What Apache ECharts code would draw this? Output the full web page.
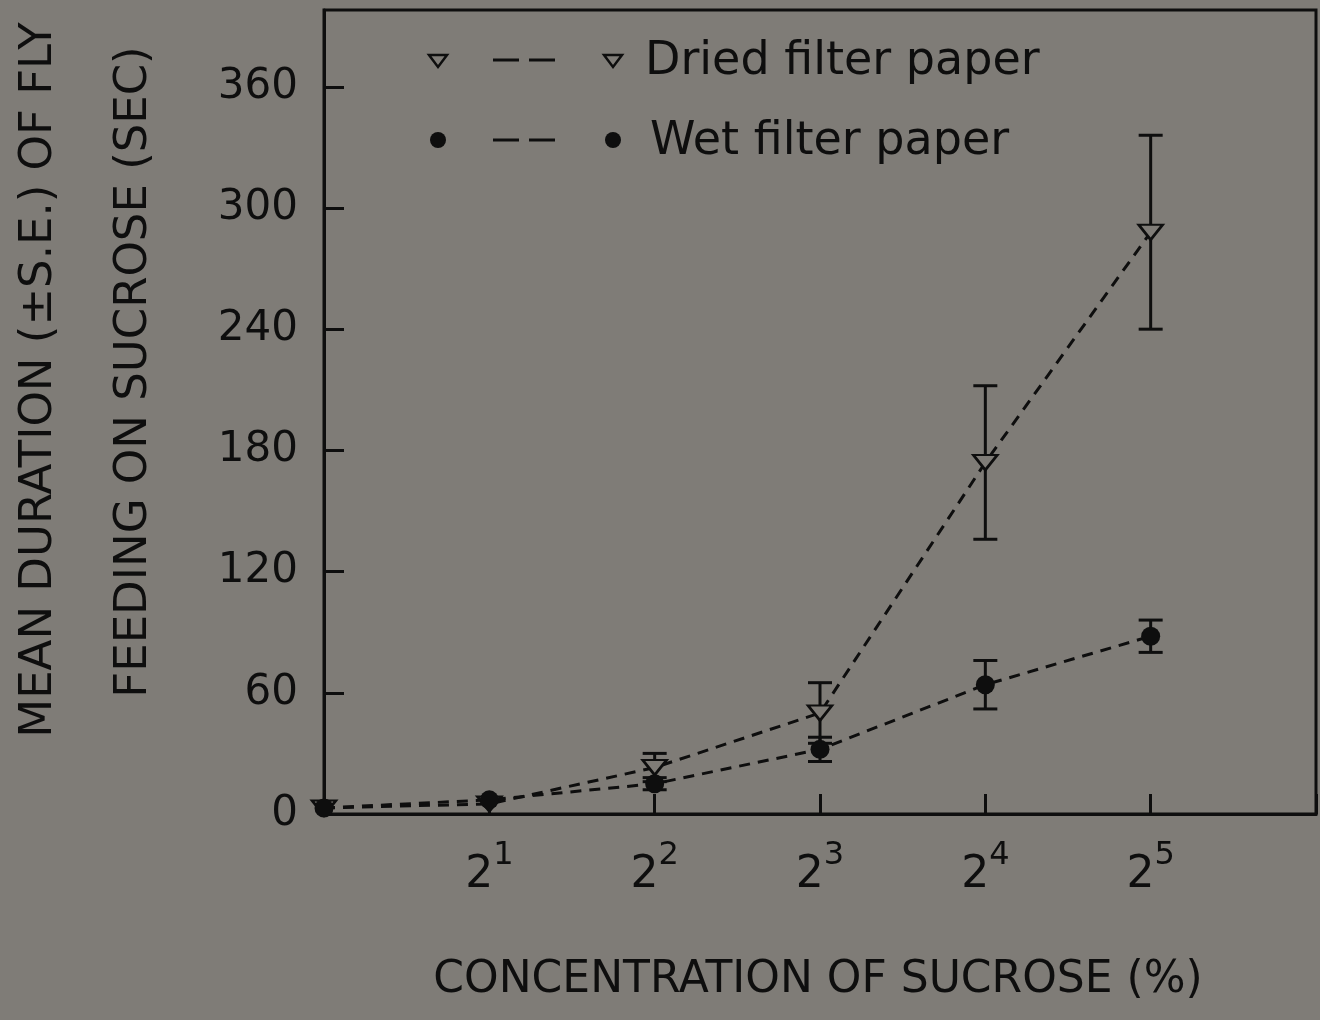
<!DOCTYPE html>
<html>
<head>
<meta charset="utf-8">
<script src="https://cdn.jsdelivr.net/npm/echarts@6/dist/echarts.min.js"></script>
<style>
  html, body { margin: 0; padding: 0; background: #7f7c77; }
  #chart { width: 1320px; height: 1020px; }
</style>
</head>
<body>
<div id="chart"></div>
<script>
// Sucrose concentration (%) on a base-2 log scale
const concentrations = [1, 2, 4, 8, 16, 32];

// Mean feeding duration (sec) and standard errors
const driedMean = [3, 5, 23, 50, 174, 288];
const driedSE   = [0, 0, 7, 15, 38, 48];
const wetMean   = [3, 7, 15, 32, 64, 88];
const wetSE     = [0, 0, 3, 6, 12, 8];

const yTicks = [0, 60, 120, 180, 240, 300, 360];

const INK = '#0e0e0e';
const BG = '#7f7c77';
const FONT = 'DejaVu Sans';
const TRI = 'path://M0,0 L24,0 L12,15 Z';

const driedPoints = concentrations.map((c, i) => [c, driedMean[i]]);
const wetPoints = concentrations.map((c, i) => [c, wetMean[i]]);
const driedBars = concentrations.map((c, i) => [c, driedMean[i] - driedSE[i], driedMean[i] + driedSE[i]])
  .filter((d, i) => driedSE[i] > 0);
const wetBars = concentrations.map((c, i) => [c, wetMean[i] - wetSE[i], wetMean[i] + wetSE[i]])
  .filter((d, i) => wetSE[i] > 0);

function errorBar(params, api) {
  const x = api.value(0);
  const lo = api.coord([x, api.value(1)]);
  const hi = api.coord([x, api.value(2)]);
  const half = 12;
  const style = { stroke: INK, lineWidth: 3 };
  return {
    type: 'group',
    children: [
      { type: 'line', shape: { x1: lo[0], y1: lo[1], x2: hi[0], y2: hi[1] }, style },
      { type: 'line', shape: { x1: lo[0] - half, y1: lo[1], x2: lo[0] + half, y2: lo[1] }, style },
      { type: 'line', shape: { x1: hi[0] - half, y1: hi[1], x2: hi[0] + half, y2: hi[1] }, style }
    ]
  };
}

const chart = echarts.init(document.getElementById('chart'));

const legendRow = (y, marker, label, textX) => {
  const items = [];
  const mk = (cx) => marker === 'tri'
    ? { type: 'polygon', shape: { points: [[cx - 9, y - 5], [cx + 9, y - 5], [cx, y + 7]] },
        style: { fill: BG, stroke: INK, lineWidth: 2.5 } }
    : { type: 'circle', shape: { cx: cx, cy: y, r: 8 }, style: { fill: INK } };
  items.push(mk(438));
  items.push({ type: 'line', shape: { x1: 493, y1: y, x2: 519, y2: y }, style: { stroke: INK, lineWidth: 3 } });
  items.push({ type: 'line', shape: { x1: 529, y1: y, x2: 555, y2: y }, style: { stroke: INK, lineWidth: 3 } });
  items.push(mk(613));
  items.push({ type: 'text', x: textX, y: y + 2,
    style: { text: label, fill: INK, font: '46px "' + FONT + '"', textAlign: 'left', textVerticalAlign: 'middle' } });
  return items;
};

chart.setOption({
  backgroundColor: BG,
  animation: false,
  grid: {
    left: 324, right: 4, top: 10, bottom: 206,
    show: true, borderColor: INK, borderWidth: 3, backgroundColor: 'transparent'
  },
  xAxis: {
    type: 'log',
    logBase: 2,
    min: 1,
    max: 64,
    interval: 1,
    axisLine: { lineStyle: { color: INK, width: 3 } },
    axisTick: { inside: true, length: 20, lineStyle: { color: INK, width: 3 } },
    splitLine: { show: false },
    axisLabel: {
      margin: 26,
      color: INK,
      formatter: function (v) {
        const e = Math.round(Math.log2(v));
        if (e < 1 || e > 5) return '';
        return '{b|2}{s|' + e + '}';
      },
      rich: {
        b: { fontFamily: FONT, fontSize: 44, color: INK, verticalAlign: 'bottom' },
        s: { fontFamily: FONT, fontSize: 32, color: INK, verticalAlign: 'bottom', padding: [0, 0, 26, 0] }
      }
    }
  },
  yAxis: {
    type: 'value',
    min: 0,
    max: 398,
    interval: 60,
    axisLine: { lineStyle: { color: INK, width: 3 } },
    axisTick: { inside: true, length: 20, lineStyle: { color: INK, width: 3 } },
    splitLine: { show: false },
    axisLabel: {
      margin: 26,
      color: INK,
      fontFamily: FONT,
      fontSize: 42,
      showMaxLabel: false,
      formatter: function (v) { return yTicks.indexOf(v) >= 0 ? String(v) : ''; }
    }
  },
  series: [
    {
      type: 'custom', name: 'Dried SE', z: 2, renderItem: errorBar,
      data: driedBars, encode: { x: 0, y: [1, 2] }
    },
    {
      type: 'custom', name: 'Wet SE', z: 2, renderItem: errorBar,
      data: wetBars, encode: { x: 0, y: [1, 2] }
    },
    {
      type: 'line', name: 'Dried filter paper', z: 3,
      data: driedPoints,
      symbol: TRI, symbolSize: [24, 15],
      itemStyle: { color: BG, borderColor: INK, borderWidth: 2.5 },
      lineStyle: { color: INK, width: 3, type: [11, 8] }
    },
    {
      type: 'line', name: 'Wet filter paper', z: 4,
      data: wetPoints,
      symbol: 'circle', symbolSize: 19,
      itemStyle: { color: INK, borderWidth: 0 },
      lineStyle: { color: INK, width: 3, type: [11, 8] }
    }
  ],
  graphic: [
    ...legendRow(60, 'tri', 'Dried filter paper', 645),
    ...legendRow(140, 'dot', 'Wet filter paper', 650),
    { type: 'text', x: 39, y: 380, rotation: Math.PI / 2,
      style: { text: 'MEAN DURATION (\u00B1S.E.) OF FLY', fill: INK, font: '45px "' + FONT + '"',
               textAlign: 'center', textVerticalAlign: 'middle' } },
    { type: 'text', x: 134, y: 372, rotation: Math.PI / 2,
      style: { text: 'FEEDING ON SUCROSE (SEC)', fill: INK, font: '45px "' + FONT + '"',
               textAlign: 'center', textVerticalAlign: 'middle' } },
    { type: 'text', x: 818, y: 981,
      style: { text: 'CONCENTRATION OF SUCROSE (%)', fill: INK, font: '44px "' + FONT + '"',
               textAlign: 'center', textVerticalAlign: 'middle' } }
  ]
});
</script>
</body>
</html>
